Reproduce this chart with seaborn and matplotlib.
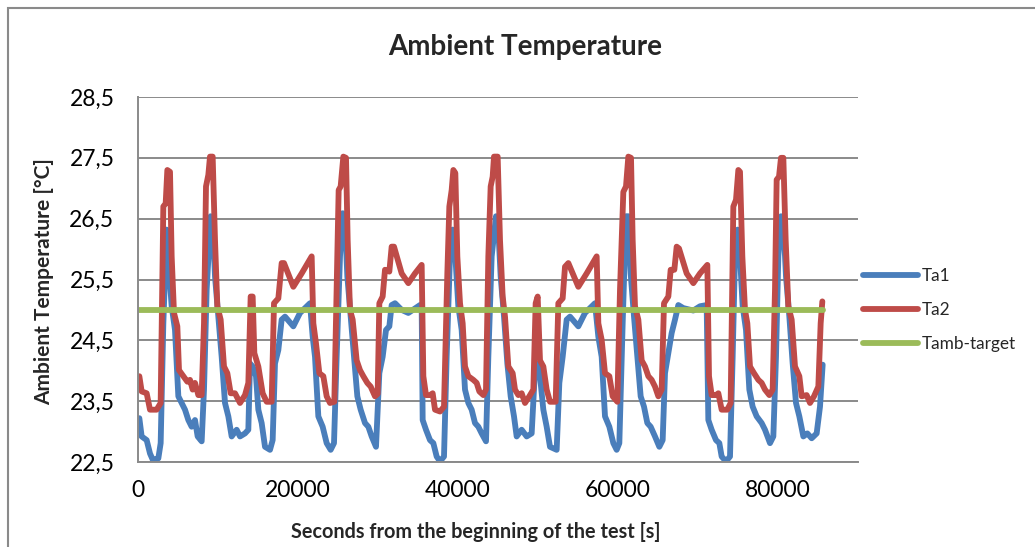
import matplotlib
matplotlib.use("Agg")
import matplotlib.pyplot as plt
import seaborn as sns
import pandas as pd
from matplotlib.patches import Rectangle

# ---------------- data ----------------
ta1_time = [167, 458, 1083, 1500, 1833, 2542, 2833, 3167, 3583, 3917, 4208, 4625, 5042, 5458, 5875,
            6292, 6708, 7125, 7458, 7958, 8250, 8583, 9083, 9333, 9625, 10042, 10458, 10875, 11292,
            11708, 12333, 12750, 13375, 13792, 14000, 14333, 14750, 15042, 15458, 15875, 16500,
            16833, 17125, 17542, 17958, 18375, 19417, 20250, 21500, 21833, 22125, 22542, 23083,
            23583, 24083, 24500, 24833, 25250, 25583, 25875, 26167, 26583, 27000, 27417, 27833,
            28375, 28792, 29208, 29750, 30167, 30583, 31000, 31417, 31708, 32125, 32958, 33792,
            35250, 35458, 35583, 36000, 36500, 36917, 37333, 37750, 38250, 38583, 39000, 39333,
            39667, 40042, 40458, 40875, 41292, 41708, 42125, 42542, 42958, 43500, 43792, 44208,
            44750, 45042, 45333, 45750, 46167, 46583, 47000, 47333, 47958, 48583, 49208, 49625,
            49917, 50250, 50667, 51083, 51500, 52333, 52667, 53083, 53583, 54000, 55042, 55875,
            57125, 57542, 57958, 58375, 58917, 59417, 59833, 60167, 60583, 61000, 61292, 61583,
            62000, 62417, 62833, 63250, 63667, 64083, 64625, 65167, 65583, 65875, 66292, 66708,
            67125, 67542, 68167, 69417, 70250, 71083, 71292, 71708, 72250, 72667, 72958, 73500,
            74000, 74333, 74625, 74958, 75250, 75583, 76000, 76417, 76833, 77333, 77958, 78375,
            79000, 79417, 79750, 80042, 80375, 80667, 81000, 81417, 81833, 82250, 82667, 83167,
            83667, 84208, 84833, 85250, 85583]
ta1 = [23.22, 22.92, 22.86, 22.64, 22.54, 22.56, 22.81, 24.78, 26.32, 25.60, 25.06, 24.67, 23.58,
       23.47, 23.36, 23.19, 23.08, 23.19, 22.92, 22.84, 23.69, 25.33, 26.54, 26.43, 25.55, 24.89,
       24.23, 23.47, 23.25, 22.92, 23.03, 22.92, 22.97, 23.03, 24.12, 24.07, 23.91, 23.36, 23.14,
       22.75, 22.70, 22.86, 24.12, 24.34, 24.84, 24.89, 24.73, 24.95, 25.11, 24.56, 24.23, 23.25,
       23.08, 22.81, 22.70, 22.81, 24.23, 25.88, 26.59, 26.43, 25.55, 24.89, 24.23, 23.58, 23.36,
       23.14, 23.08, 22.92, 22.75, 23.96, 24.23, 24.67, 24.73, 25.08, 25.11, 25.00, 24.95, 25.08,
       25.06, 23.19, 23.03, 22.86, 22.81, 22.59, 22.51, 22.59, 24.23, 25.88, 26.32, 25.88, 25.06,
       24.67, 23.69, 23.47, 23.36, 23.14, 23.08, 22.97, 22.84, 24.23, 25.88, 26.54, 26.32, 25.55,
       24.89, 24.12, 23.58, 23.25, 22.92, 23.03, 22.92, 22.97, 24.01, 24.12, 23.91, 23.36, 23.08,
       22.75, 22.70, 23.80, 24.23, 24.84, 24.89, 24.73, 24.95, 25.11, 24.56, 24.23, 23.25, 23.08,
       22.81, 22.70, 22.81, 24.78, 26.54, 26.54, 25.60, 24.89, 24.23, 23.58, 23.41, 23.14, 23.08,
       22.92, 22.75, 22.86, 23.96, 24.29, 24.62, 24.84, 25.08, 25.03, 24.99, 25.06, 25.08, 23.19,
       23.03, 22.86, 22.81, 22.59, 22.51, 22.59, 24.23, 25.88, 26.32, 25.88, 25.06, 24.67, 23.69,
       23.41, 23.25, 23.14, 23.03, 22.81, 22.92, 24.23, 25.88, 26.54, 26.43, 25.55, 24.89, 24.12,
       23.47, 23.25, 22.92, 22.97, 22.89, 22.97, 23.41, 24.10]

ta2_time = [167, 458, 1083, 1500, 2333, 2833, 3167, 3458, 3667, 4000, 4208, 4500, 4917, 5125, 5667,
            6167, 6500, 6833, 7125, 7542, 7958, 8250, 8500, 8792, 9000, 9333, 9625, 9917, 10333,
            10750, 11167, 11583, 12125, 12750, 13375, 13792, 14083, 14333, 14542, 15042, 15583,
            16083, 16708, 17000, 17542, 17958, 18250, 19417, 20458, 21708, 21917, 22250, 22667,
            23167, 23583, 24000, 24542, 24833, 25083, 25333, 25667, 26000, 26208, 26500, 26833,
            27333, 27750, 28167, 28667, 29083, 29625, 29958, 30167, 30583, 30875, 31417, 31708,
            32000, 32958, 33792, 34625, 35458, 35667, 36000, 36500, 36833, 37125, 37750, 38250,
            38667, 38917, 39208, 39417, 39667, 39917, 40250, 40583, 40875, 41292, 41917, 42333,
            42667, 43167, 43500, 43792, 44083, 44333, 44500, 44958, 45250, 45583, 45875, 46292,
            46833, 47125, 47542, 47958, 48375, 48917, 49417, 49708, 49958, 50250, 50667, 51083,
            51500, 52208, 52542, 53083, 53375, 53792, 55042, 56083, 57333, 57542, 57958, 58375,
            58917, 59333, 59917, 60250, 60667, 61000, 61292, 61625, 61833, 62125, 62542, 62958,
            63375, 63792, 64208, 64625, 65042, 65458, 65750, 66292, 66583, 67042, 67333, 67625,
            68583, 69417, 70250, 71167, 71375, 71708, 72250, 72542, 72958, 73667, 74083, 74417,
            74750, 75042, 75250, 75542, 75875, 76167, 76500, 77000, 77542, 77958, 78375, 78917,
            79333, 79625, 79833, 80125, 80375, 80667, 80958, 81292, 81708, 82125, 82667, 82958,
            83583, 84000, 84500, 85042, 85333, 85542]
ta2 = [23.91, 23.66, 23.63, 23.36, 23.36, 23.47, 26.70, 26.75, 27.30, 27.27, 25.88, 24.95, 24.73,
       24.01, 23.91, 23.82, 23.85, 23.69, 23.80, 23.60, 23.60, 24.78, 27.03, 27.22, 27.52, 27.52,
       26.15, 25.06, 24.84, 24.07, 23.96, 23.63, 23.63, 23.47, 23.60, 23.80, 25.22, 25.22, 24.29,
       24.07, 23.63, 23.49, 23.49, 25.11, 25.19, 25.77, 25.77, 25.38, 25.60, 25.88, 24.78, 24.45,
       23.96, 23.91, 23.58, 23.47, 23.49, 25.33, 26.97, 27.03, 27.52, 27.50, 26.15, 25.00, 24.84,
       24.17, 24.01, 23.91, 23.80, 23.74, 23.58, 23.62, 25.11, 25.22, 25.66, 25.63, 26.04, 26.04,
       25.60, 25.44, 25.60, 25.74, 23.91, 23.60, 23.60, 23.63, 23.36, 23.33, 23.41, 25.60, 26.70,
       26.97, 27.30, 27.25, 25.88, 25.11, 24.78, 24.07, 23.91, 23.85, 23.80, 23.66, 23.60, 23.69,
       25.88, 27.03, 27.19, 27.52, 27.52, 26.15, 25.22, 24.89, 24.07, 23.96, 23.69, 23.60, 23.63,
       23.47, 23.58, 23.69, 25.11, 25.22, 24.17, 24.07, 23.69, 23.49, 23.49, 25.11, 25.19, 25.71,
       25.77, 25.38, 25.60, 25.88, 24.78, 24.51, 23.96, 23.91, 23.58, 23.49, 25.33, 26.94, 27.03,
       27.52, 27.50, 26.15, 25.06, 24.84, 24.17, 24.07, 23.91, 23.85, 23.74, 23.58, 23.69, 25.11,
       25.22, 25.66, 25.66, 26.04, 26.01, 25.60, 25.44, 25.60, 25.74, 23.91, 23.60, 23.60, 23.63,
       23.36, 23.36, 23.47, 26.70, 26.81, 27.30, 27.27, 25.88, 25.00, 24.78, 24.07, 23.96, 23.85,
       23.80, 23.69, 23.60, 23.69, 25.33, 27.14, 27.19, 27.50, 27.50, 26.15, 25.06, 24.84, 24.07,
       23.91, 23.58, 23.60, 23.47, 23.58, 23.74, 24.78, 25.14]

target_time = [0, 85650]
target = [25.0, 25.0]

series_names = ["Ta1", "Ta2", "Tamb-target"]
series_colors = ["#4A7EBB", "#BE4B48", "#9BBB59"]

x_ticks = [0, 20000, 40000, 60000, 80000]
y_ticks = [22.5, 23.5, 24.5, 25.5, 26.5, 27.5, 28.5]
y_tick_labels = ["22,5", "23,5", "24,5", "25,5", "26,5", "27,5", "28,5"]

title = "Ambient Temperature"
x_label = "Seconds from the beginning of the test [s]"
y_label = "Ambient Temperature [°C]"

# ---------------- plotting ----------------
sns.set_theme(style="white")
plt.rcParams['font.family'] = ['Lato', 'DejaVu Sans']

W, H = 1035, 547
fig = plt.figure(figsize=(W / 100, H / 100), dpi=100)
fig.patch.set_facecolor("white")
ax = fig.add_axes([138 / W, 1 - 462 / H, 720 / W, 365 / H])

LW = 4.2
frames = [
    pd.DataFrame({"t": ta1_time, "v": ta1}),
    pd.DataFrame({"t": ta2_time, "v": ta2}),
    pd.DataFrame({"t": target_time, "v": target}),
]
for df, name, col in zip(frames, series_names, series_colors):
    sns.lineplot(data=df, x="t", y="v", ax=ax, color=col, lw=LW, label=name,
                 estimator=None, sort=False)
for ln in ax.lines:
    ln.set_solid_capstyle("round")
    ln.set_solid_joinstyle("round")

ax.set_xlim(0, 90000)
ax.set_ylim(22.5, 28.5)
ax.set_xticks(x_ticks)
ax.set_xticklabels([str(v) for v in x_ticks])
ax.set_yticks(y_ticks)
ax.set_yticklabels(y_tick_labels)
ax.tick_params(axis="both", length=0, labelsize=16.5, colors="#000000")
ax.tick_params(axis="x", pad=13)
ax.tick_params(axis="y", pad=17)

ax.yaxis.grid(True, color="#8A8A8A", lw=1.4)
ax.xaxis.grid(False)
ax.set_axisbelow(True)
for s in ["top", "right"]:
    ax.spines[s].set_visible(False)
for s in ["left", "bottom"]:
    ax.spines[s].set_color("#8A8A8A")
    ax.spines[s].set_linewidth(1.4)

ax.set_xlabel(x_label, fontsize=14.3, fontweight="bold")
ax.set_ylabel(y_label, fontsize=15, fontweight="bold")
ax.xaxis.label.set_va("center")
ax.yaxis.label.set_va("center")
ax.xaxis.set_label_coords(476 / W, 1 - 532 / H, transform=fig.transFigure)
ax.yaxis.set_label_coords(44 / W, 1 - 282 / H, transform=fig.transFigure)

fig.text(525 / W, 1 - 47 / H, title, ha="center", va="center",
         fontsize=20, fontweight="bold")

leg = ax.legend(loc="center left", bbox_to_anchor=(863 / W, 1 - 310 / H),
                bbox_transform=fig.transFigure, frameon=False, fontsize=12.4,
                handlelength=3.2, handletextpad=0.2, labelspacing=1.05,
                borderpad=0, borderaxespad=0)
for h in leg.get_lines():
    h.set_linewidth(LW)
    h.set_solid_capstyle("round")

fig.add_artist(Rectangle((8 / W, -0.1), 1.2, 1.1 - 8 / H, transform=fig.transFigure,
                         fill=False, edgecolor="#8A8A8A", lw=1.5))

fig.savefig("out.png", dpi=100, facecolor="white")
